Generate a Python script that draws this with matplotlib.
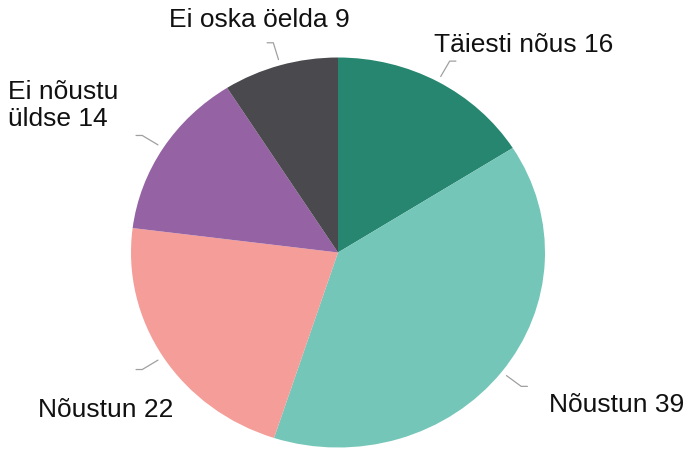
import numpy as np
import matplotlib
matplotlib.use("Agg")
import matplotlib.pyplot as plt

# Survey answers (share of respondents)
categories = ["Täiesti nõus", "Nõustun", "Nõustun", "Ei nõustu\nüldse", "Ei oska öelda"]
values = [16, 39, 22, 14, 9]
colors = ["#26866f", "#74c6b8", "#f59d99", "#9563a3", "#4a494d"]

# label anchor (x, y in data units), alignment
label_pos = [(0.464, 1.064, "left"), (1.019, -0.782, "left"), (-0.797, -0.808, "right"),
             (-1.594, 0.756, "left"), (0.058, 1.192, "right")]

W, H = 688, 451
fig = plt.figure(figsize=(W / 100, H / 100), dpi=100)
ax = fig.add_axes([0, 0, 1, 1])

cx, cy, rx, ry = 338, 252.5, 207, 195
ax.pie(values, colors=colors, startangle=90, counterclock=False,
       wedgeprops=dict(linewidth=0), radius=1)
ax.set_aspect("auto")
ax.set_xlim((0 - cx) / rx, (W - cx) / rx)
ax.set_ylim((cy - H) / ry, (cy - 0) / ry)
ax.axis("off")

sx = ry / rx  # horizontal step in data units matching pixels
total = sum(values)
cum = 0
for val, cat, (lx, ly, ha) in zip(values, categories, label_pos):
    mid = np.deg2rad(90 - (cum + val / 2) / total * 360)
    cum += val
    ux, uy = np.cos(mid), np.sin(mid)
    x0, y0 = 1.03 * ux, 1.03 * uy
    x1, y1 = 1.12 * ux, 1.12 * uy
    x2 = x1 + (0.03 if ux >= 0 else -0.03)
    ax.plot([x0, x1, x2], [y0, y1, y1], color="#a0a0a0", lw=0.9,
            clip_on=False, solid_capstyle="round")
    ax.text(lx, ly, f"{cat} {val}", ha=ha, va="center", fontsize=19,
            family="Liberation Sans", color="#111111", linespacing=1.15)

fig.savefig("out.png", dpi=100)
